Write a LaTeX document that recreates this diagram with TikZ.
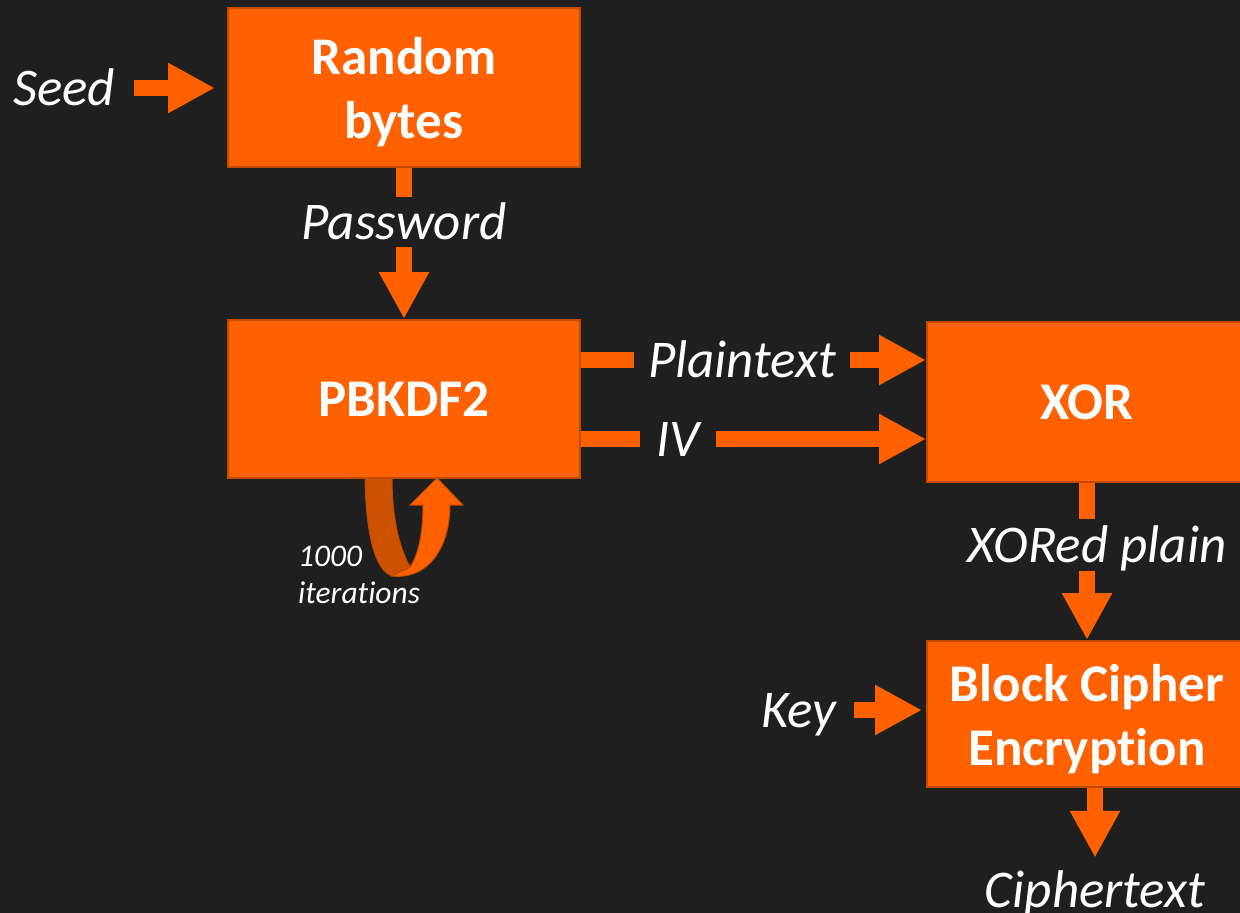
\documentclass[tikz,border=0pt]{standalone}
\usepackage{fontspec}
\setmainfont{Carlito}[Ligatures=NoCommon]
\usetikzlibrary{arrows.meta}
\definecolor{bg}{HTML}{1E1F1E}
\definecolor{org}{HTML}{FF6000}
\definecolor{orgdark}{HTML}{C04A00}
\definecolor{orgband}{HTML}{CC5200}
% keeps "t" and "i" as separate glyphs
\newcommand{\tisep}{\kern0pt}

\begin{document}
\begin{tikzpicture}[x=1pt,y=-1pt,
  box/.style={draw=orgdark, line width=2pt, fill=org, text=white,
    font=\bfseries\fontsize{53}{64}\selectfont, align=center, inner sep=0pt},
  lbl/.style={text=white, font=\itshape\fontsize{53}{64}\selectfont,
    inner xsep=0pt, inner ysep=0pt, text height=34pt, text depth=0pt},
  shaft/.style={draw=org, line width=16pt, line cap=butt},
  blk/.style={shaft, -{Triangle[width=47pt,length=47pt]}},
]
\fill[bg] (0,0) rectangle (1240,913);
\useasboundingbox (0,0) rectangle (1240,913);

% processing blocks (the rule lowers two-line texts a little)
\node[box, minimum width=352pt, minimum height=159pt] (rb) at (404,87.5) {\rule{0pt}{47pt}Random\\bytes};
\node[box, minimum width=352pt, minimum height=158pt] (pb) at (404,399) {PBKDF2};
\node[box, minimum width=320pt, minimum height=160pt] (xor) at (1087,402) {XOR};
\node[box, minimum width=320pt, minimum height=146pt] (bc) at (1087,714) {\rule{0pt}{47pt}Block Cipher\\Encrypt\tisep ion};

% data labels
\node[lbl, inner xsep=19pt] (seed) at (64,88) {Seed};
\node[lbl, inner ysep=8pt] (pw) at (404,222) {Password};
\node[lbl, inner xsep=14pt] (pt) at (742,360) {Plaintext};
\node[lbl, inner xsep=16pt] (iv) at (678,439) {IV};
\node[lbl, inner ysep=9pt] (xp) at (1097,545) {XORed plain};
\node[lbl, inner xsep=17pt] (key) at (799,710) {Key};
\node[lbl, inner ysep=15pt] (ct) at (1095,890) {Ciphertext};
\node[text=white, font=\itshape\fontsize{31.5}{37}\selectfont, align=left,
  anchor=north west, inner sep=0pt] (it) at (298,546) {1000\\iterat\tisep ions};

% flow arrows
\draw[blk, shorten >=12pt] (seed.east) -- (rb.west |- seed.east);
\draw[shaft] (rb.south) -- (pw.north);
\draw[blk] (pw.south) -- (pb.north);
\draw[shaft] (pb.east |- pt.west) -- (pt.west);
\draw[blk] (pt.east) -- (xor.west |- pt.east);
\draw[shaft] (pb.east |- iv.west) -- (iv.west);
\draw[blk] (iv.east) -- (xor.west |- iv.east);
\draw[shaft] (xor.south) -- (xor.south |- xp.north);
\draw[blk] (xor.south |- xp.south) -- (bc.north);
\draw[blk, shorten >=4pt] (key.east) -- (bc.west |- key.east);
\draw[blk] (bc.south -| ct.north) -- (ct.north);

% iteration loop under PBKDF2
\filldraw[fill=orgband, draw=orgdark, line width=1pt]
  (365,478) .. controls (366,535) and (375,570) .. (392,576)
  -- (410,567) .. controls (398,545) and (392,515) .. (392,478) -- cycle;
\filldraw[fill=org, draw=orgdark, line width=1pt]
  (392,576) .. controls (430,580) and (450,545) .. (450,505)
  -- (463,505) -- (437,478) -- (410,505) -- (423,505)
  .. controls (423,535) and (418,555) .. (410,567) -- cycle;
\end{tikzpicture}
\end{document}
